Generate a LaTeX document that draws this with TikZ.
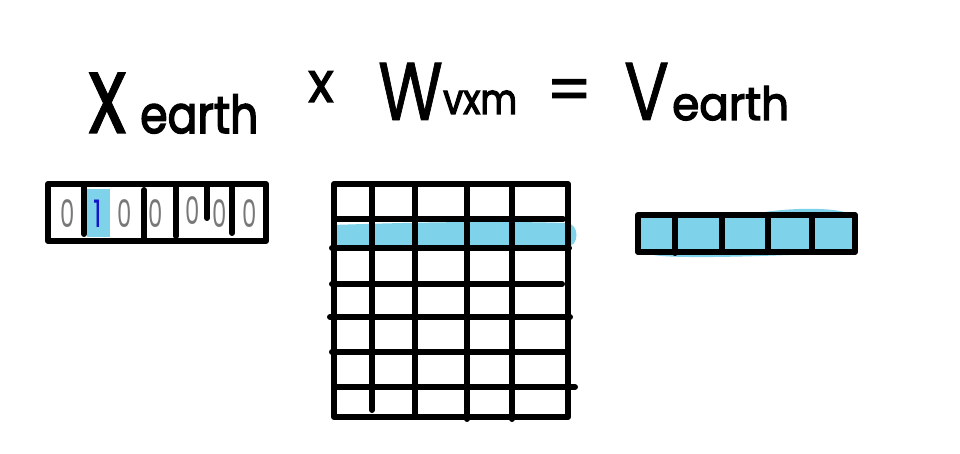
\documentclass[tikz,border=0pt]{standalone}
\usepackage{fontspec}
\setmainfont{Poppins}
\usepackage{graphicx}
\definecolor{hl}{RGB}{126,211,234}
\definecolor{digitgray}{RGB}{120,120,120}
\definecolor{digitblue}{RGB}{20,20,200}
\begin{document}
\begin{tikzpicture}[x=1pt,y=-1pt,
  ln/.style={line width=6pt,line cap=round,line join=round},
  hlfill/.style={fill=hl},
  eq/.style={inner sep=0pt,anchor=base west},
  dig/.style={inner sep=0pt,text=digitgray,font=\fontsize{38}{38}\selectfont}]
\useasboundingbox (0,0) rectangle (960,454);
\fill[white] (0,0) rectangle (960,454);

% equation
\node[eq,font=\fontsize{100}{100}\selectfont\addfontfeature{FakeBold=1}] (xbig) at (88,133) {\scalebox{0.8}[1.1]{x}};
\node[eq,font=\fontsize{52}{52}\selectfont\addfontfeature{FakeBold=3}] (xsub) at (140,133) {\scalebox{0.85}[1]{earth}};
\node[eq,font=\fontsize{56}{56}\selectfont\addfontfeature{FakeBold=2}] (times) at (308,102) {\scalebox{0.95}[1]{x}};
\node[eq,font=\fontsize{78}{78}\selectfont\addfontfeature{FakeBold=1}] (W) at (378,120) {\scalebox{0.85}[1.05]{W}};
\node[eq,font=\fontsize{42}{42}\selectfont\addfontfeature{FakeBold=3}] (Wsub) at (443,114) {\scalebox{0.85}[1]{vxm}};
\node[eq,font=\fontsize{64}{64}\selectfont\addfontfeature{FakeBold=1.5}] (eqs) at (546,112) {=};
\node[eq,font=\fontsize{78}{78}\selectfont\addfontfeature{FakeBold=1}] (V) at (624,120) {\scalebox{0.85}[1.05]{V}};
\node[eq,font=\fontsize{46}{46}\selectfont\addfontfeature{FakeBold=3}] (Vsub) at (672,120) {\scalebox{0.95}[1]{earth}};

% left one-hot vector
\fill[hlfill] (87,189) rectangle (110,237);
\draw[ln] (48,184) rectangle (266,241);
\draw[ln] (84,186) -- (84,234);
\draw[ln] (144,190) -- (144,238);
\draw[ln] (176,186) -- (176,236);
\draw[ln] (207,186) -- (207,218);
\draw[ln] (232,186) -- (232,233);
\node[dig] (d1) at (68,214) {\scalebox{0.6}[1]{0}};
\node[dig,text=digitblue] (d2) at (98,214) {\scalebox{0.7}[1]{1}};
\node[dig] (d3) at (125,214) {\scalebox{0.6}[1]{0}};
\node[dig] (d4) at (156,214) {\scalebox{0.6}[1]{0}};
\node[dig] (d5) at (193,211) {\scalebox{0.6}[1]{0}};
\node[dig] (d6) at (220,214) {\scalebox{0.6}[1]{0}};
\node[dig] (d7) at (250,214) {\scalebox{0.6}[1]{0}};

% weight matrix
\fill[hlfill] (333,225) .. controls (420,222) and (500,221) .. (566,223)
  .. controls (580,223) and (580,247) .. (566,247) -- (333,247) -- cycle;
\draw[ln] (334,184) rectangle (568,417);
\draw[ln] (372,184) -- (372,410);
\draw[ln] (415,184) -- (415,417);
\draw[ln] (467,184) -- (467,419);
\draw[ln] (512,184) -- (512,419);
\draw[ln] (337,219) -- (563,219);
\draw[ln] (332,248) -- (569,248);
\draw[ln] (332,284) -- (562,284);
\draw[ln] (330,317) -- (570,317);
\draw[ln] (332,352) -- (567,352);
\draw[ln] (337,387) -- (575,387);

% output vector
\fill[hlfill] (640,220) .. controls (660,212) and (720,214) .. (765,212)
  .. controls (800,207) and (838,208) .. (850,214) -- (852,252)
  .. controls (800,255) and (700,259) .. (662,256)
  .. controls (642,255) and (632,246) .. (636,233) -- cycle;
\fill[hlfill] (638,215) rectangle (855,252);
\draw[ln] (638,215) rectangle (855,252);
\draw[ln] (675,215) -- (675,253);
\draw[ln] (722,215) -- (722,252);
\draw[ln] (768,215) -- (768,252);
\draw[ln] (812,215) -- (812,252);
\end{tikzpicture}
\end{document}
